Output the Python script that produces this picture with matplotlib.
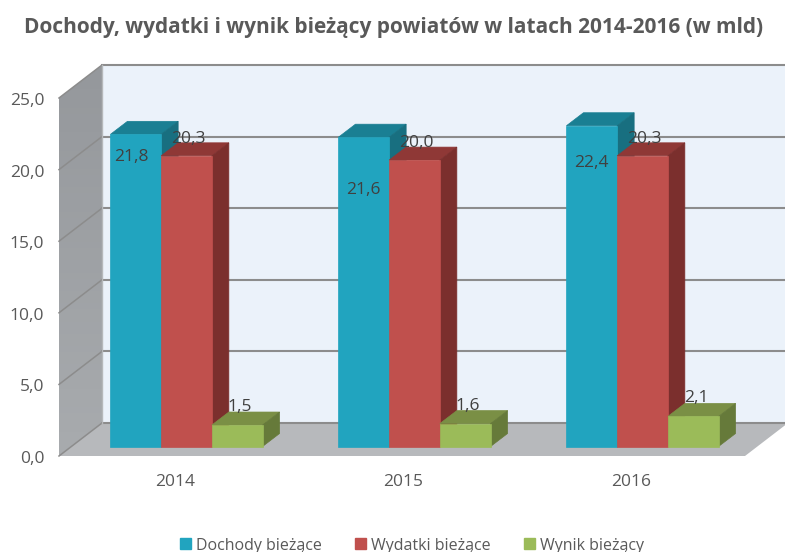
import matplotlib
matplotlib.use('Agg')
import matplotlib.pyplot as plt
import numpy as np
from matplotlib.patches import Patch, Polygon
from matplotlib.transforms import ScaledTranslation

plt.rcParams['font.family'] = ['Open Sans', 'DejaVu Sans']

years   = ['2014', '2015', '2016']
dochody = [21.8, 21.6, 22.4]
wydatki = [20.3, 20.0, 20.3]
wynik   = [1.5, 1.6, 2.1]
y_ticks = [0, 5, 10, 15, 20, 25]
names   = ['Dochody bieżące', 'Wydatki bieżące', 'Wynik bieżący']

# kolory: przód, góra, bok
C_BLUE  = ('#21a4bf', '#1a7f93', '#186f80')
C_RED   = ('#c0504d', '#8f3836', '#7b2f2d')
C_GREEN = ('#9bbb59', '#7a8f45', '#667a3a')

W, H = 785, 552
L_PX, R_PX, B_PX, T_PX = 59, 745, 456, 98   # przednia płaszczyzna w pikselach
X0_PX, STEP_PX = 175, 228                   # pozycja pierwszej kategorii, krok
PX_Y = (B_PX - T_PX) / 25
PX_X = STEP_PX

fig = plt.figure(figsize=(W / 100, H / 100), dpi=100)
ax = fig.add_axes([L_PX / W, 1 - B_PX / H, (R_PX - L_PX) / W, (B_PX - T_PX) / H])
xmin, xmax = (L_PX - X0_PX) / PX_X, (R_PX - X0_PX) / PX_X

# głębokość ściany tylnej i słupków (w jednostkach danych)
back_x, back_y = 43 / PX_X, 33 / PX_Y
base_x, base_y = 11.5 / PX_X, 9.5 / PX_Y
bar_dx, bar_dy = 17 / PX_X, 13 / PX_Y
bar_w = 50.7 / PX_X

GRID = '#8c8c8c'

# ściana tylna
ax.add_patch(Polygon([(xmin + back_x, back_y), (xmax + back_x, back_y),
                      (xmax + back_x, 25 + back_y), (xmin + back_x, 25 + back_y)],
                     fc='#ebf2fa', ec='none', clip_on=False, zorder=1))

# lewa ściana z lekkim gradientem
wall = Polygon([(xmin, 0), (xmin + back_x, back_y), (xmin + back_x, 25 + back_y), (xmin, 25)],
               fc='none', ec='none', clip_on=False, zorder=1)
ax.add_patch(wall)
grad = np.linspace(0, 1, 64).reshape(-1, 1)
im = ax.imshow(grad, extent=[xmin, xmin + back_x, 0, 25 + back_y], origin='upper',
               cmap=matplotlib.colors.LinearSegmentedColormap.from_list('w', ['#95989c', '#a8abae']),
               aspect='auto', zorder=1)
im.set_clip_path(wall)
im.set_clip_box(fig.bbox)

# podłoga
ax.add_patch(Polygon([(xmin, 0), (xmax, 0), (xmax + back_x, back_y), (xmin + back_x, back_y)],
                     fc='#b7b9bc', ec='none', clip_on=False, zorder=1))

# siatka
for v in y_ticks:
    ax.plot([xmin + back_x, xmax + back_x], [v + back_y] * 2, color=GRID, lw=1.5,
            clip_on=False, zorder=2)
    ax.plot([xmin, xmin + back_x], [v, v + back_y], color=GRID, lw=1.1,
            clip_on=False, zorder=2)
ax.plot([xmin + back_x] * 2, [back_y, 25 + back_y], color='#b5b8ba', lw=1, clip_on=False, zorder=2)


def bars_3d(x, values, colors, z):
    front, top, side = colors
    for xi, v in zip(x, values):
        left = xi - bar_w / 2
        right = xi + bar_w / 2
        y0 = base_y
        y1 = v + base_y
        ax.add_patch(Polygon([(left, y1), (right, y1), (right + bar_dx, y1 + bar_dy),
                              (left + bar_dx, y1 + bar_dy)],
                             fc=top, ec=top, lw=0.5, clip_on=False, zorder=z))
        ax.add_patch(Polygon([(right, y0), (right + bar_dx, y0 + bar_dy),
                              (right + bar_dx, y1 + bar_dy), (right, y1)],
                             fc=side, ec=side, lw=0.5, clip_on=False, zorder=z))
    ax.bar(x, values, bar_w, bottom=base_y, color=front, edgecolor=front,
           linewidth=0.5, clip_on=False, zorder=z + 0.1)


pos = np.arange(len(years))
bars_3d(pos + base_x - bar_w, dochody, C_BLUE, 3)
bars_3d(pos + base_x, wydatki, C_RED, 4)
bars_3d(pos + base_x + bar_w, wynik, C_GREEN, 5)

# etykiety danych - w oryginale przesunięte ręcznie
blue_off = [-23, -53, -37]
blue_dx = [-4, 0, 0]
for i in pos:
    ax.annotate(f'{dochody[i]:.1f}'.replace('.', ','), (i + base_x - bar_w, dochody[i] + base_y),
                xytext=(blue_dx[i] * 0.72, blue_off[i] * 0.72), textcoords='offset points',
                ha='center', va='center', fontsize=12.5, color='#404040', zorder=10,
                annotation_clip=False)
    ax.annotate(f'{wydatki[i]:.1f}'.replace('.', ','), (i + base_x, wydatki[i] + base_y),
                xytext=(2 * 0.72, 17 * 0.72), textcoords='offset points',
                ha='center', va='center', fontsize=12.5, color='#404040', zorder=10,
                annotation_clip=False)
    ax.annotate(f'{wynik[i]:.1f}'.replace('.', ','), (i + base_x + bar_w, wynik[i] + base_y),
                xytext=(2, 18 * 0.72), textcoords='offset points',
                ha='center', va='center', fontsize=12.5, color='#404040', zorder=10,
                annotation_clip=False)

ax.set_xlim(xmin, xmax)
ax.set_ylim(0, 25)
ax.set_xticks(pos)
ax.set_xticklabels(years, fontsize=12.5, color='#595959')
ax.set_yticks(y_ticks)
ax.set_yticklabels([f'{v:.1f}'.replace('.', ',') for v in y_ticks], fontsize=12.5, color='#595959')
ax.tick_params(axis='x', length=0, pad=13)
ax.tick_params(axis='y', length=0, pad=10.5)
for lab in ax.get_yticklabels():
    lab.set_transform(lab.get_transform() + ScaledTranslation(0, -1.0 / 100, fig.dpi_scale_trans))
for s in ax.spines.values():
    s.set_visible(False)
ax.patch.set_visible(False)

fig.text(394 / W, 1 - 27 / H, 'Dochody, wydatki i wynik bieżący powiatów w latach 2014-2016 (w mld)',
         ha='center', va='center', fontsize=15.05, fontweight='bold', color='#595959')

handles = [Patch(color=c[0]) for c in (C_BLUE, C_RED, C_GREEN)]
fig.legend(handles, names, loc='center', bbox_to_anchor=(412 / W, 1 - 545.5 / H), ncol=3,
           frameon=False, fontsize=11.5, labelcolor='#595959', handlelength=0.68, handleheight=0.68,
           handletextpad=0.3, columnspacing=2.1, borderpad=0, borderaxespad=0)

fig.savefig('out.png', dpi=100)
